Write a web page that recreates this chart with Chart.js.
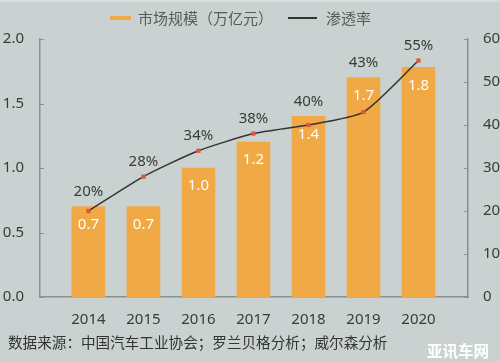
<!DOCTYPE html>
<html>
<head>
<meta charset="utf-8">
<script src="https://cdn.jsdelivr.net/npm/chart.js@4.4.0/dist/chart.umd.min.js"></script>
<style>
  body { margin: 0; background: #c9d2d1; }
  #wrap { position: relative; width: 500px; height: 361px; font-family: "Noto Sans", "Noto Sans CJK SC", sans-serif; }
  #chart { position: absolute; left: 0; top: 0; }
  .txt { position: absolute; white-space: nowrap; line-height: 20px; }
  .swatch { position: absolute; }
</style>
</head>
<body>
<div id="wrap">
  <div class="swatch" style="left:0;top:0;width:500px;height:2px;background:#d6dddc;"></div>
  <canvas id="chart" width="500" height="361"></canvas>
  <div class="swatch" style="left:110px;top:16px;width:21px;height:4px;background:#f0a944;"></div>
  <div class="txt" style="left:138px;top:8px;font-size:15px;color:#5a5a5a;">市场规模（万亿元）</div>
  <div class="swatch" style="left:288px;top:17px;width:29px;height:2px;background:#333;"></div>
  <div class="txt" style="left:326px;top:8px;font-size:15px;color:#5a5a5a;">渗透率</div>
  <div class="txt" style="left:8px;top:332px;font-size:14.6px;color:#333;">数据来源：中国汽车工业协会；罗兰贝格分析；威尔森分析</div>
  <div class="txt" style="left:427px;top:341px;font-size:15.5px;font-weight:bold;color:#fff;">亚讯车网</div>
</div>
<script>
const years = [2014, 2015, 2016, 2017, 2018, 2019, 2020];
const marketSize = [0.7, 0.7, 1.0, 1.2, 1.4, 1.7, 1.78];
const sizeLabels = ["0.7", "0.7", "1.0", "1.2", "1.4", "1.7", "1.8"];
const penetration = [20, 28, 34, 38, 40, 43, 55];

const axisColor = "#8a9191";
const textColor = "#3a3a3a";
const font = "'Noto Sans', 'Noto Sans CJK SC', sans-serif";

// value labels + inward tick marks
const labelPlugin = {
    id: "labels",
    afterDatasetsDraw(chart) {
        const { ctx, scales } = chart;
        const bars = chart.getDatasetMeta(0).data;
        const pts = chart.getDatasetMeta(1).data;

        ctx.save();
        ctx.font = `15px ${font}`;
        ctx.textAlign = "center";
        ctx.textBaseline = "middle";
        bars.forEach((bar, i) => {
            ctx.fillStyle = "#ffffff";
            ctx.fillText(sizeLabels[i], bar.x, bar.y + 18);
            const top = Math.min(bar.y, pts[i].y);
            ctx.fillStyle = textColor;
            ctx.fillText(penetration[i] + "%", bar.x, top - 15);
        });

        // ticks pointing into the plot
        ctx.strokeStyle = axisColor;
        ctx.lineWidth = 1;
        scales.y.ticks.forEach(t => {
            const py = Math.round(scales.y.getPixelForValue(t.value)) + 0.5;
            ctx.beginPath();
            ctx.moveTo(scales.y.right, py);
            ctx.lineTo(scales.y.right + 4, py);
            ctx.stroke();
        });
        scales.y1.ticks.forEach(t => {
            const py = Math.round(scales.y1.getPixelForValue(t.value)) + 0.5;
            ctx.beginPath();
            ctx.moveTo(scales.y1.left, py);
            ctx.lineTo(scales.y1.left - 4, py);
            ctx.stroke();
        });
        ctx.restore();
    }
};

new Chart(document.getElementById("chart"), {
    data: {
        datasets: [
            {
                type: "bar",
                data: years.map((y, i) => ({ x: y, y: marketSize[i] })),
                backgroundColor: "#f0a944",
                barThickness: 33,
                yAxisID: "y",
                order: 2
            },
            {
                type: "line",
                data: years.map((y, i) => ({ x: y, y: penetration[i] })),
                borderColor: "#333333",
                borderWidth: 1.5,
                tension: 0.2,
                pointStyle: "rect",
                pointRadius: 3,
                pointBorderWidth: 0,
                pointBackgroundColor: "#e2553b",
                yAxisID: "y1",
                order: 1
            }
        ]
    },
    options: {
        responsive: false,
        animation: false,
        layout: { padding: { top: 39, left: 0, right: 0, bottom: 0 } },
        plugins: {
            legend: { display: false },
            tooltip: { enabled: false }
        },
        scales: {
            x: {
                type: "linear",
                offset: false,
                min: 2013.12,
                max: 2020.9,
                afterBuildTicks: s => { s.ticks = years.map(v => ({ value: v })); },
                afterFit: s => { s.height = 64; },
                ticks: {
                    callback: v => String(v),
                    color: textColor,
                    font: { size: 15, family: font },
                    padding: 6,
                    maxRotation: 0
                },
                grid: { display: false, offset: false },
                border: { display: true, color: axisColor, width: 1.5 }
            },
            y: {
                position: "left",
                min: 0,
                max: 2,
                afterFit: s => { s.width = 40; },
                ticks: {
                    stepSize: 0.5,
                    callback: v => v.toFixed(1),
                    color: textColor,
                    font: { size: 15, family: font },
                    padding: 8
                },
                grid: { display: false },
                border: { display: true, color: axisColor, width: 1.5 }
            },
            y1: {
                position: "right",
                min: 0,
                max: 60,
                afterFit: s => { s.width = 32; },
                ticks: {
                    stepSize: 10,
                    color: textColor,
                    font: { size: 15, family: font },
                    padding: 7
                },
                grid: { display: false },
                border: { display: true, color: axisColor, width: 1.5 }
            }
        }
    },
    plugins: [labelPlugin]
});
</script>
</body>
</html>
